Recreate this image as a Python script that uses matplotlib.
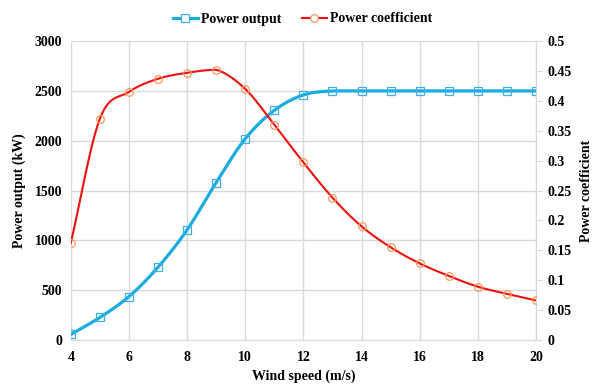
import numpy as np
import matplotlib
matplotlib.use("Agg")
import matplotlib.pyplot as plt

# Data
wind_speed = [4, 5, 6, 7, 8, 9, 10, 11, 12, 13, 14, 15, 16, 17, 18, 19, 20]
power_kw = [55, 225, 435, 730, 1105, 1580, 2020, 2305, 2460, 2500, 2500,
            2500, 2500, 2500, 2500, 2500, 2500]
power_coef = [0.162, 0.370, 0.415, 0.437, 0.447, 0.452, 0.420, 0.360, 0.297,
              0.238, 0.190, 0.155, 0.128, 0.107, 0.089, 0.077, 0.066]


def smooth(x, y, n=24):
    # Bezier curve through the points, like Excel's "smoothed line"
    x = np.asarray(x, float)
    y = np.asarray(y, float)
    px = np.concatenate([[2 * x[0] - x[1]], x, [2 * x[-1] - x[-2]]])
    py = np.concatenate([[2 * y[0] - y[1]], y, [2 * y[-1] - y[-2]]])
    xs, ys = [], []
    t = np.linspace(0, 1, n)
    for i in range(1, len(px) - 2):
        p0, p1, p2, p3 = (np.array([px[j], py[j]]) for j in range(i - 1, i + 3))
        b1 = p1 + (p2 - p0) / 6
        b2 = p2 - (p3 - p1) / 6
        lo, hi = min(p1[1], p2[1]), max(p1[1], p2[1])
        b1[1] = np.clip(b1[1], lo, hi)
        b2[1] = np.clip(b2[1], lo, hi)
        seg = ((1 - t) ** 3)[:, None] * p1 + (3 * (1 - t) ** 2 * t)[:, None] * b1 \
            + (3 * (1 - t) * t ** 2)[:, None] * b2 + (t ** 3)[:, None] * p2
        xs.append(seg[:, 0])
        ys.append(seg[:, 1])
    return np.concatenate(xs), np.concatenate(ys)


plt.rcParams["font.family"] = ["Liberation Serif", "DejaVu Serif"]
plt.rcParams["font.weight"] = "bold"
plt.rcParams["font.size"] = 10

blue = "#1AABDF"
blue_mk = "#3DAEE6"
red = "#F01010"
orange = "#F79A5E"

fig = plt.figure(figsize=(6.05, 3.88), dpi=100)
ax = fig.add_axes([0.117, 0.124, 0.769, 0.770])
ax2 = ax.twinx()

sx, sy = smooth(wind_speed, power_kw)
ax.plot(sx, sy, color=blue, lw=2.3, zorder=3)
ax.plot(wind_speed, power_kw, ls="none", marker="s", ms=5.5, mfc="none",
        mec=blue_mk, mew=0.9, zorder=4)

cx, cy = smooth(wind_speed, power_coef)
ax2.plot(cx, cy, color=red, lw=1.5, zorder=3)
ax2.plot(wind_speed, power_coef, ls="none", marker="o", ms=5.5, mfc="none",
         mec=orange, mew=0.9, zorder=4)

ax.set_xlim(4, 20)
ax.set_ylim(0, 3000)
ax2.set_ylim(0, 0.5)
ax.set_xticks(range(4, 21, 2))
ax.set_yticks(range(0, 3001, 500))
ax2.set_yticks(np.arange(0, 0.501, 0.05))
ax2.set_yticklabels(["0", "0.05", "0.1", "0.15", "0.2", "0.25", "0.3",
                     "0.35", "0.4", "0.45", "0.5"])

ax.grid(True, color="#D9D9D9", lw=1.0)
ax.set_axisbelow(True)
for a in (ax, ax2):
    for s in a.spines.values():
        s.set_visible(False)
ax.spines["bottom"].set_visible(True)
ax.spines["bottom"].set_color("#D9D9D9")
ax2.spines["right"].set_visible(True)
ax2.spines["right"].set_color("#D9D9D9")

ax.tick_params(axis="both", length=0, pad=8)
ax.tick_params(axis="y", pad=6)
ax2.tick_params(axis="y", length=4, color="#D9D9D9", pad=4)

ax.set_xlabel("Wind speed (m/s)", fontweight="bold", labelpad=4)
ax.set_ylabel("Power output (kW)", fontweight="bold", labelpad=6)
ax2.set_ylabel("Power coefficient", fontweight="bold", labelpad=6)

h1 = plt.Line2D([], [], color=blue, lw=2.3, marker="s", ms=5.5, mfc="white",
                mec=blue_mk, mew=0.9)
h2 = plt.Line2D([], [], color=red, lw=1.5, marker="o", ms=5.5, mfc="white",
                mec=orange, mew=0.9)
fig.legend([h1, h2], ["Power output", "Power coefficient"], loc="upper center",
           bbox_to_anchor=(0.5, 1.0), ncol=2, frameon=False, handlelength=1.8,
           handletextpad=0.2, columnspacing=1.5)

fig.savefig("out.png", dpi=100)
